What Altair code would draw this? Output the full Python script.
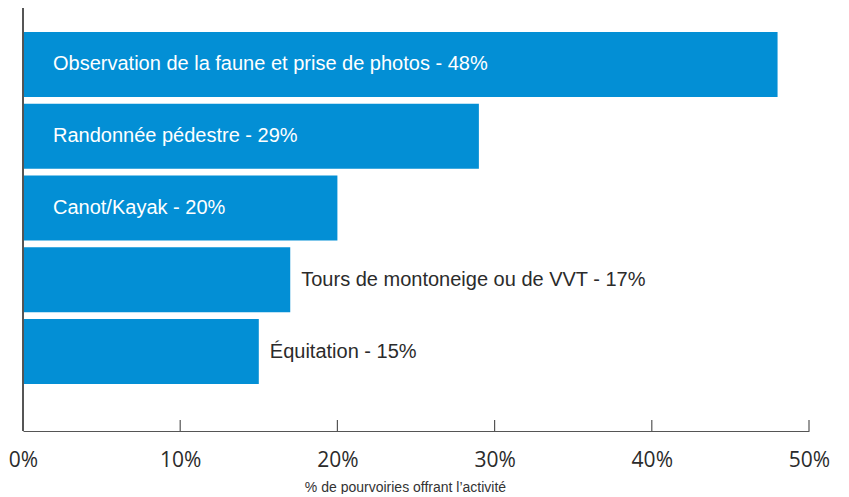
import altair as alt
import pandas as pd

activities = [
    "Observation de la faune et prise de photos",
    "Randonnée pédestre",
    "Canot/Kayak",
    "Tours de montoneige ou de VVT",
    "Équitation",
]
values = [48, 29, 20, 17, 15]
label_inside = [True, True, True, False, False]
tick_values = [0, 10, 20, 30, 40, 50]

df = pd.DataFrame({
    "activity": activities,
    "value": values,
    "inside": label_inside,
})
df["label"] = [f"{a} - {v}%" for a, v in zip(activities, values)]
ticks_df = pd.DataFrame({"t": tick_values[1:]})

W, H = 786, 430
BLUE = "#038fd5"
AXIS_COLOR = "#555555"

x_scale = alt.Scale(domain=[0, 50], nice=False)
y_scale = alt.Scale(domain=activities, range=[27.6, 386.4], paddingInner=0.094, paddingOuter=0.047)

base = alt.Chart(df)

bars = base.mark_bar(color=BLUE).encode(
    x=alt.X("value:Q", scale=x_scale,
            axis=alt.Axis(values=tick_values, labelExpr="datum.value + '%'",
                          tickSize=0, grid=False, domainColor=AXIS_COLOR, domainWidth=1.2,
                          labelFont="Open Sans", labelFontSize=21, labelColor="#2b2b2b",
                          labelPadding=18, labelFlush=False,
                          title="% de pourvoiries offrant l’activité",
                          titleFont="Liberation Sans", titleFontSize=14, titleFontWeight="normal",
                          titleColor="#333333", titleX=382, titleY=49, titleAnchor="middle",
                          titleAlign="center")),
    y=alt.Y("activity:N", scale=y_scale, sort=activities,
            axis=alt.Axis(labels=False, ticks=False, title=None, domain=False)),
)

text_in = base.transform_calculate(zero="0").transform_filter("datum.inside").mark_text(
    align="left", baseline="middle", dx=30, color="white",
    font="Liberation Sans", fontSize=20, fontWeight=300,
).encode(
    x=alt.X("zero:Q", scale=x_scale),
    y=alt.Y("activity:N", scale=y_scale, sort=activities),
    text="label:N",
)

text_out = base.transform_filter("!datum.inside").mark_text(
    align="left", baseline="middle", dx=11, color="#2b2b2b",
    font="Liberation Sans", fontSize=20, fontWeight=300,
).encode(
    x=alt.X("value:Q", scale=x_scale),
    y=alt.Y("activity:N", scale=y_scale, sort=activities),
    text="label:N",
)

tick_rules = alt.Chart(ticks_df).mark_rule(color=AXIS_COLOR, strokeWidth=1.2).encode(
    x=alt.X("t:Q", scale=x_scale),
    y=alt.value(H - 11),
    y2=alt.value(H),
)

y_axis_line = alt.Chart(ticks_df).mark_rule(color=AXIS_COLOR, strokeWidth=1.2).encode(
    x=alt.value(0),
    y=alt.value(0),
    y2=alt.value(H),
)

chart = alt.layer(bars, tick_rules, y_axis_line, text_in, text_out).properties(
    width=W, height=H,
    padding={"top": -8, "left": 0, "right": 0, "bottom": 0},
    background="white",
).configure_view(strokeWidth=0, stroke="transparent")

chart.save("out.html", embed_options={"renderer": "svg", "actions": False})
